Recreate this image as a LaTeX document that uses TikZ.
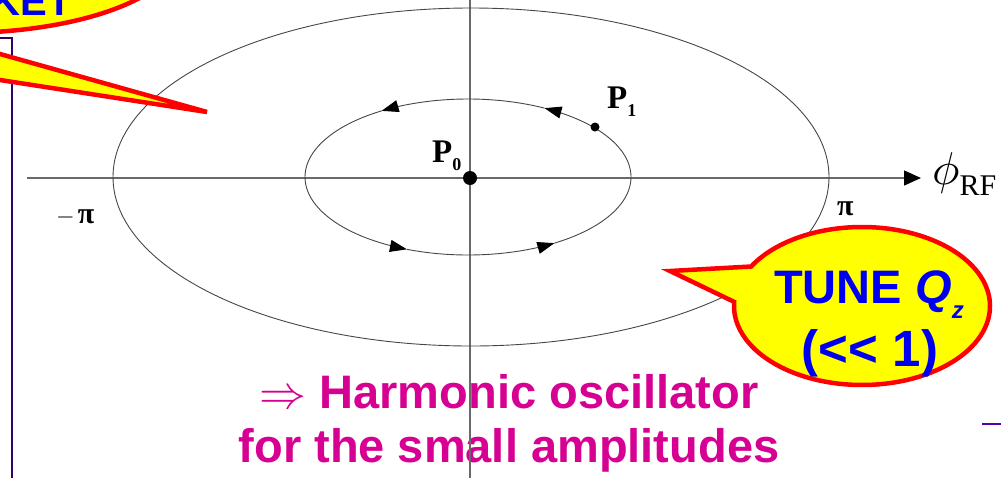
\documentclass[tikz,border=0pt]{standalone}
\usepackage{graphicx}
\usepackage{fontspec}
\setmainfont{Liberation Serif}
\setsansfont{Liberation Sans}
\usetikzlibrary{arrows.meta}
\definecolor{cyel}{RGB}{255,255,0}
\definecolor{cred}{RGB}{255,0,0}
\definecolor{cblue}{RGB}{0,0,240}
\definecolor{cmag}{RGB}{214,0,147}
\definecolor{cpur}{RGB}{51,0,102}
\definecolor{cpurl}{RGB}{85,0,170}
\definecolor{axisgray}{RGB}{105,105,105}
\definecolor{ellgray}{RGB}{70,70,70}
\newcommand{\bigmath}[2]{\mbox{\fontsize{10}{10}\selectfont\scalebox{#1}{$#2$}}}
\begin{document}
\begin{tikzpicture}[x=1pt,y=-1pt,
  ell/.style={draw=ellgray, line width=0.9pt},
  axisline/.style={draw=axisgray, line width=1.3pt},
  callout/.style={fill=cyel, draw=cred, line width=4.5pt},
  orbitarrow/.style={ell, -{Triangle[length=17pt,width=12pt,color=black]}},
  bigsans/.style={font=\sffamily\bfseries\fontsize{47}{54}\selectfont, inner sep=0pt},
  plabel/.style={font=\rmfamily\bfseries\fontsize{33}{33}\selectfont, inner sep=0pt},
  pifont/.style={font=\rmfamily\bfseries\fontsize{30}{30}\selectfont, inner sep=0pt},
  dot/.style={circle, fill=black, inner sep=0pt}
]
\useasboundingbox (0,0) rectangle (1001,477);
\clip (0,0) rectangle (1001,477);

% bottom text
\node[bigsans, text=cmag, anchor=base] (harm) at (509,408) {\bigmath{4.7}{\Rightarrow} Harmonic oscillator};
\node[bigsans, text=cmag, anchor=base] (small) at (509,462) {for the small amplitudes};

% frame lines
\draw[cpur, line width=2pt] (-5,38) -- (12,38) -- (12,480);
\draw[cpurl, line width=1.5pt] (982,424) -- (1005,424);

% axes
\draw[axisline, -{Triangle[length=17pt,width=15pt,color=black]}] (27,178) -- (921,178);
\draw[axisline] (470,-5) -- (470,482);

% outer ellipse
\draw[ell] (471,177) ellipse [x radius=358, y radius=169];

% inner orbit with arrows
\draw[orbitarrow] plot[domain=-58:62, samples=60] ({468+163*cos(\x)}, {177-78*sin(\x)});
\draw[orbitarrow] plot[domain=62:122, samples=40] ({468+163*cos(\x)}, {177-78*sin(\x)});
\draw[orbitarrow] plot[domain=122:248, samples=60] ({468+163*cos(\x)}, {177-78*sin(\x)});
\draw[orbitarrow] plot[domain=248:302, samples=40] ({468+163*cos(\x)}, {177-78*sin(\x)});

% points
\node[dot, minimum size=14pt] (p0dot) at (470,178) {};
\node[dot, minimum size=9pt] (p1dot) at (595,127) {};
\node[plabel, anchor=base west] (p0) at (432,162) {P\raisebox{-8pt}{\fontsize{18}{18}\selectfont 0}};
\node[plabel, anchor=base west] (p1) at (607,108) {P\raisebox{-8pt}{\fontsize{18}{18}\selectfont 1}};

% pi labels
\node[pifont, anchor=base west] (mpi) at (56,223) {\bigmath{2.4}{-}\kern3pt π};
\node[pifont, anchor=base west] (ppi) at (837,215) {π};

% phi_RF
\node[inner sep=0pt, anchor=base west] (phi) at (932,184)
  {\bigmath{4.6}{\phi}\raisebox{-11pt}{\rmfamily\fontsize{30}{30}\selectfont RF}};

% callouts
\filldraw[callout] (-40,-50) ellipse [x radius=220, y radius=83];
\node[font=\sffamily\bfseries\fontsize{40}{40}\selectfont, text=cblue, anchor=base east, inner sep=0pt] (ket) at (72,15) {KET};

\filldraw[callout] (-20,48.4) -- (207,112) -- (-20,76.9) -- cycle;

\filldraw[callout] plot[domain=177:510, samples=150] ({862+128*cos(\x)},{306-79*sin(\x)}) -- (670,271) -- cycle;
\node[bigsans, text=cblue, anchor=base] (tune) at (869,303)
  {TUNE \textit{Q}\raisebox{-15pt}{\fontsize{24}{24}\selectfont\textit{z}}};
\node[bigsans, font=\sffamily\bfseries\fontsize{51}{54}\selectfont, text=cblue, anchor=base] (ll) at (870,366) {(<\kern0pt< 1)};
\end{tikzpicture}
\end{document}
